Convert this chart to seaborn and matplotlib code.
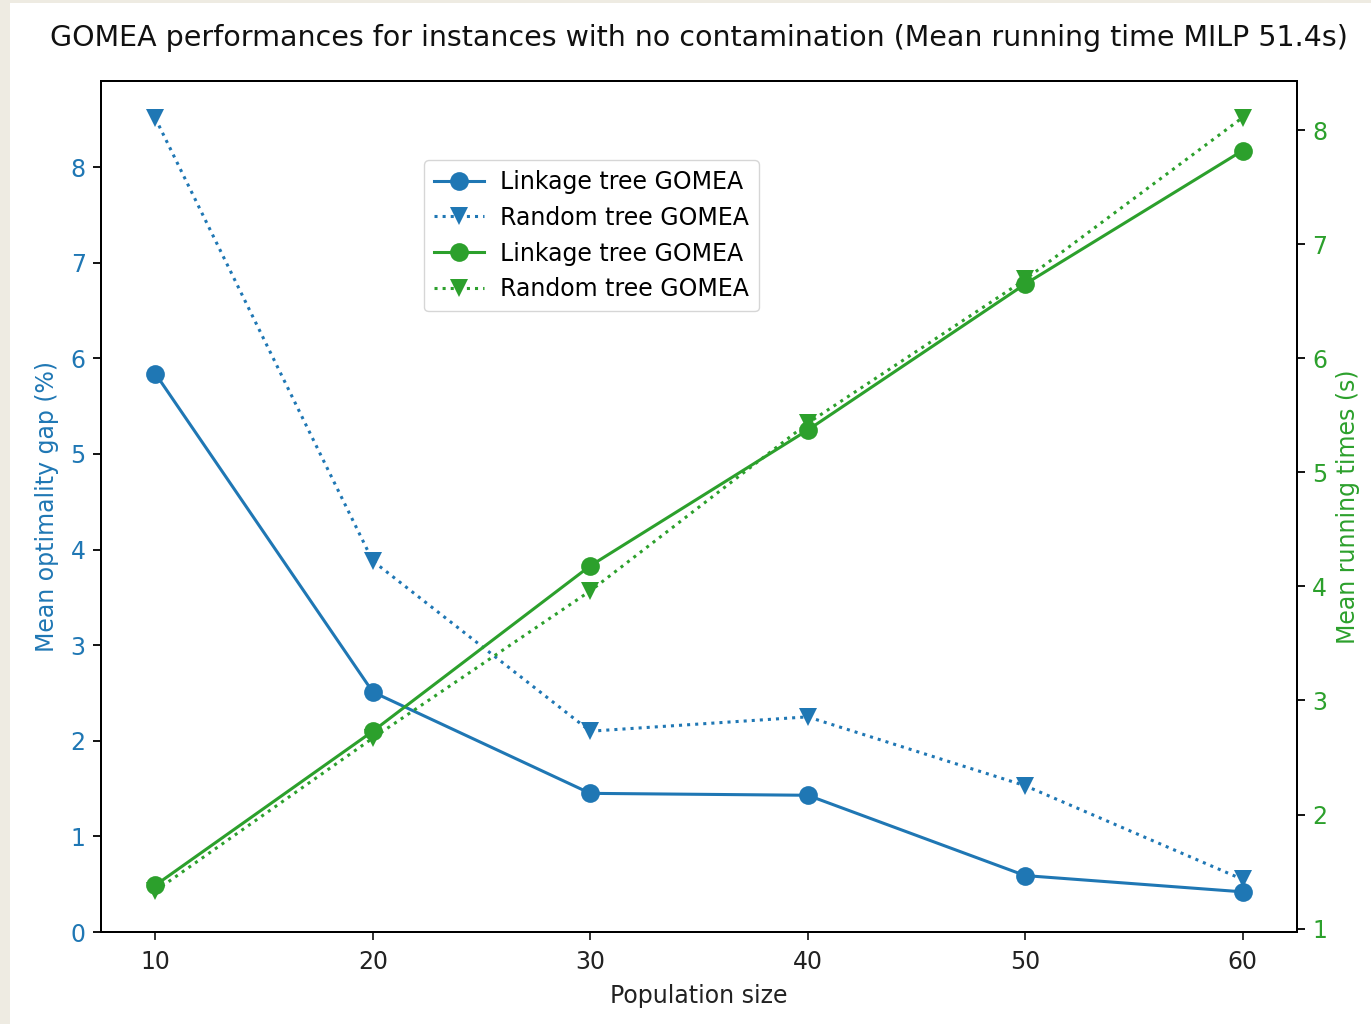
import matplotlib
matplotlib.use("Agg")
import matplotlib.pyplot as plt
import seaborn as sns
import pandas as pd
from matplotlib.patches import Rectangle

# ---- data ----
population = [10, 20, 30, 40, 50, 60]
gap_linkage = [5.84, 2.51, 1.45, 1.43, 0.59, 0.42]
gap_random = [8.51, 3.88, 2.10, 2.25, 1.53, 0.55]
time_linkage = [1.38, 2.73, 4.18, 5.37, 6.65, 7.82]
time_random = [1.33, 2.67, 3.96, 5.43, 6.69, 8.11]
series_labels = ["Linkage tree GOMEA", "Random tree GOMEA"]
title = "GOMEA performances for instances with no contamination (Mean running time MILP 51.4s)"

BLUE = "#1f77b4"
GREEN = "#2ca02c"

plt.rcParams["font.family"] = ["DejaVu Sans"]

fig = plt.figure(figsize=(13.71, 10.24), dpi=100, facecolor="#eeebe2")
fig.patches.append(Rectangle((10 / 1371, 0), 1.0, 1021 / 1024, transform=fig.transFigure,
                             facecolor="white", edgecolor="none", zorder=-10))
ax1 = fig.add_axes([101 / 1371, 1 - 932 / 1024, (1297 - 101) / 1371, (932 - 81) / 1024])
ax2 = ax1.twinx()

df = pd.DataFrame({"pop": population, "gl": gap_linkage, "gr": gap_random,
                   "tl": time_linkage, "tr": time_random})

lw = 2.2
ms = 13.5
sns.lineplot(data=df, x="pop", y="gl", ax=ax1, color=BLUE, marker="o", markersize=ms,
             markeredgewidth=0, linewidth=lw, linestyle="-", label=series_labels[0], legend=False)
sns.lineplot(data=df, x="pop", y="gr", ax=ax1, color=BLUE, marker="v", markersize=ms,
             markeredgewidth=0, linewidth=lw, linestyle=":", label=series_labels[1], legend=False)
sns.lineplot(data=df, x="pop", y="tl", ax=ax2, color=GREEN, marker="o", markersize=ms,
             markeredgewidth=0, linewidth=lw, linestyle="-", label=series_labels[0], legend=False)
sns.lineplot(data=df, x="pop", y="tr", ax=ax2, color=GREEN, marker="v", markersize=ms,
             markeredgewidth=0, linewidth=lw, linestyle=":", label=series_labels[1], legend=False)

fs = 17
ax1.set_xlim(7.5, 62.5)
ax1.set_ylim(0, 8.9)
ax2.set_ylim(0.97, 8.43)
ax1.set_xticks(population)
ax1.set_yticks(range(0, 9))
ax2.set_yticks(range(1, 9))

ax1.set_xlabel("Population size", fontsize=fs, color="#222222", labelpad=7)
ax1.set_ylabel("Mean optimality gap (%)", fontsize=fs, color=BLUE, labelpad=8)
ax2.set_ylabel("Mean running times (s)", fontsize=fs, color=GREEN, labelpad=6)

ax1.tick_params(axis="x", labelsize=fs, length=6, width=1.3, colors="#222222", pad=7)
ax1.tick_params(axis="y", labelsize=fs, length=6, width=1.3, labelcolor=BLUE, pad=5)
ax2.tick_params(axis="y", labelsize=fs, length=6, width=1.3, labelcolor=GREEN, pad=5)
for ax in (ax1, ax2):
    for sp in ax.spines.values():
        sp.set_linewidth(1.4)

ax1.set_title(title, fontsize=20.5, pad=25, color="#111111")

h1, l1 = ax1.get_legend_handles_labels()
h2, l2 = ax2.get_legend_handles_labels()
ax2.legend(h1 + h2, l1 + l2, loc="upper left", bbox_to_anchor=(424 / 1371, 1 - 160 / 1024),
           bbox_transform=fig.transFigure, fontsize=fs, borderaxespad=0, handlelength=2.1,
           labelspacing=0.5, borderpad=0.42, handletextpad=0.7)

fig.savefig("out.png", dpi=100, facecolor=fig.get_facecolor())
